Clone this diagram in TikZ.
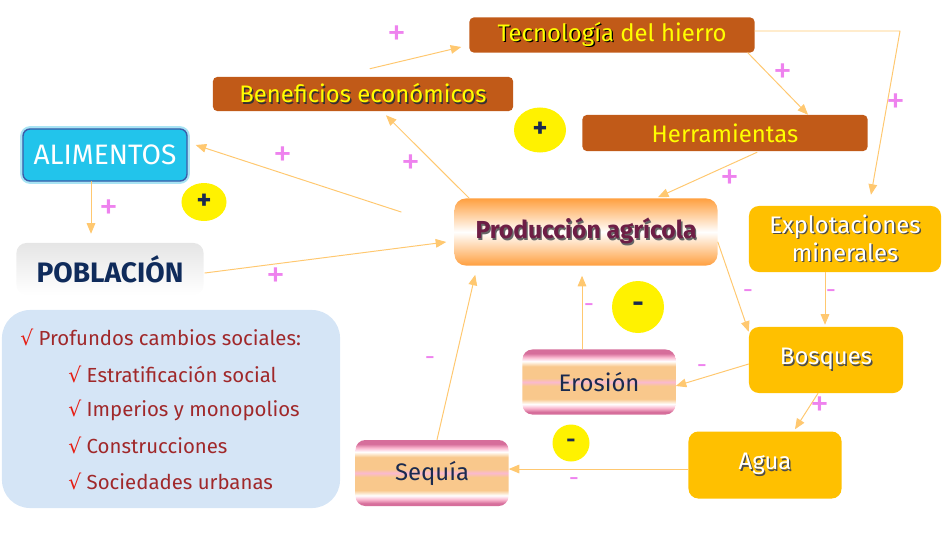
\documentclass[tikz,border=0pt]{standalone}
\usepackage{fontspec}
\setmainfont{Fira Sans}
\newfontfamily\symfont{DejaVu Sans}
\usepackage{tikz}
\usetikzlibrary{arrows}
\usetikzlibrary{shapes.geometric}

\definecolor{ironfill}{RGB}{193,90,24}
\definecolor{ironfont}{RGB}{255,255,0}
\definecolor{goldfill}{RGB}{255,192,0}
\definecolor{prodorange}{RGB}{255,160,64}
\definecolor{prodfont}{RGB}{110,30,70}
\definecolor{alifill}{RGB}{34,196,235}
\definecolor{aliedge}{RGB}{60,92,168}
\definecolor{aliring}{RGB}{168,228,244}
\definecolor{pobfont}{RGB}{15,43,91}
\definecolor{navyfont}{RGB}{26,42,79}
\definecolor{socfill}{RGB}{213,229,246}
\definecolor{socfont}{RGB}{160,40,42}
\definecolor{checkred}{RGB}{230,30,20}
\definecolor{linkc}{RGB}{255,200,112}
\definecolor{signc}{RGB}{238,130,238}
\definecolor{stripeA}{RGB}{214,110,155}
\definecolor{stripeB}{RGB}{249,200,140}
\definecolor{stripeC}{RGB}{250,185,208}

\pgfdeclareverticalshading{stripes}{100bp}{color(0bp)=(stripeA); color(27bp)=(stripeA); color(30bp)=(stripeC); color(33bp)=(white); color(37bp)=(stripeB); color(47bp)=(stripeB); color(50bp)=(stripeC); color(53bp)=(stripeB); color(62bp)=(stripeB); color(66bp)=(white); color(69bp)=(stripeC); color(72bp)=(stripeA); color(100bp)=(stripeA)}

\newcommand\shtext[2]{\makebox[0pt][l]{\hspace{1pt}\raisebox{-1pt}{\color{#1}#2}}#2}
\newcommand\chkmark{{\symfont\color{checkred}√}}

\begin{document}
\begin{tikzpicture}[line cap=round,line join=round,>=triangle 45,x=0.025cm,y=-0.025cm,
    ironbox/.style={rectangle, rounded corners=3pt, fill=ironfill, text=ironfont, minimum width=7.125cm, minimum height=0.875cm, font=\fontsize{17}{20}\selectfont},
    goldbox/.style={rectangle, rounded corners=7pt, fill=goldfill, text=white, minimum width=3.85cm, minimum height=1.65cm, align=center, font=\fontsize{17}{20}\selectfont},
    stripebox/.style={rectangle, rounded corners=7pt, shading=stripes, text=navyfont, minimum width=3.825cm, minimum height=1.625cm, font=\fontsize{17}{20}\selectfont},
    signdot/.style={ellipse, fill=yellow, text=navyfont, inner sep=0pt, font=\bfseries\fontsize{20}{20}\selectfont},
    item/.style={anchor=west, text=socfont, inner sep=0pt, font=\fontsize{14.5}{18}\selectfont},
    link/.style={->, draw=linkc, line width=0.7pt},
    lbl/.style={text=signc, inner sep=0pt, font=\fontsize{18}{18}\selectfont},
    plus/.style={text=signc, inner sep=0pt, font=\fontsize{27}{27}\selectfont}]
    \useasboundingbox (0,0) rectangle (944,540);

    \node[ironbox] (tec) at (612,35) {\shtext{black}{Tecnología} del hierro};
    \node[ironbox, minimum width=7.5cm, minimum height=0.85cm] (ben) at (363,94) {\shtext{black!80}{Beneficios económicos}};
    \node[ironbox, minimum height=0.9cm] (her) at (725,133) {Herramientas};

    \node[rectangle, rounded corners=5pt, fill=alifill, draw=aliedge, line width=1pt, preaction={draw=aliring, line width=4pt}, text=white, minimum width=4.1cm, minimum height=1.3cm, font=\fontsize{20}{22}\selectfont] (ali) at (105,155) {ALIMENTOS};
    \node[rectangle, rounded corners=7pt, top color=black!10, bottom color=white, text=pobfont, minimum width=4.675cm, minimum height=1.3cm, font=\bfseries\fontsize{20}{22}\selectfont] (pob) at (110,269) {POBLACIÓN};

    \node[rectangle, rounded corners=8pt, top color=prodorange, bottom color=prodorange, middle color=white, text=prodfont, minimum width=6.575cm, minimum height=1.675cm, font=\bfseries\fontsize{17.5}{20}\selectfont] (prod) at (586,232) {\shtext{black!60}{Producción agrícola}};

    \node[goldbox, minimum width=4.8cm] (exp) at (845,239) {\shtext{black!70}{Explotaciones}\\\shtext{black!70}{minerales}};
    \node[goldbox] (bos) at (826,360) {\shtext{black!70}{Bosques}};
    \node[goldbox, minimum width=3.825cm, minimum height=1.675cm] (agua) at (765,465) {\shtext{black!70}{Agua}};

    \node[stripebox] (ero) at (599,382) {Erosión};
    \node[stripebox, minimum height=1.65cm] (seq) at (432,473) {Sequía};

    \node[rectangle, rounded corners=20pt, fill=socfill, minimum width=8.45cm, minimum height=4.95cm] (soc) at (171,409) {};
    \node[item] (soc0) at (20,337) {\chkmark\ Profundos cambios sociales:};
    \node[item] (soc1) at (68,374) {\chkmark\ Estratificación social};
    \node[item] (soc2) at (68,410) {\chkmark\ Imperios y monopolios};
    \node[item] (soc3) at (68,445) {\chkmark\ Construcciones};
    \node[item] (soc4) at (68,481) {\chkmark\ Sociedades urbanas};

    \node[signdot, minimum width=1.3cm, minimum height=1.125cm] (dotA) at (540,130) {+};
    \node[signdot, minimum width=1.125cm, minimum height=0.95cm] (dotB) at (204,202) {+};
    \node[signdot, minimum size=1.3cm] (dotC) at (638,307) {-};
    \node[signdot, minimum size=0.925cm, font=\bfseries\fontsize{16}{16}\selectfont] (dotD) at (571,443) {-};

    \coordinate (bend) at (900,31);

    \draw[link] ([shift={(7,-8)}]ben.north) -- ([shift={(-8,12)}]tec.west);
    \draw[link] ([shift={(-7,0)}]tec.south east) -- ([shift={(83,0)}]her.north);
    \draw[link] ([shift={(0,-4)}]tec.east) -- (bend) -- ([shift={(26,-11)}]exp.north);
    \draw[link] ([shift={(32,1)}]her.south) -- ([shift={(72,-1)}]prod.north);
    \draw[link] ([shift={(15,0)}]prod.north west) -- ([shift={(23,4)}]ben.south);
    \draw[link] ([shift={(-53,-20)}]prod.west) -- ([shift={(8,-10)}]ali.east);
    \draw[link] ([shift={(-14,0)}]ali.south) -- ([shift={(-19,-9)}]pob.north);
    \draw[link] ([shift={(1,4)}]pob.east) -- ([shift={(-8,10)}]prod.west);
    \draw[link] ([shift={(0,10)}]prod.east) -- ([shift={(0,5)}]bos.north west);
    \draw[link] ([shift={(-20,0)}]exp.south) -- ([shift={(-1,-2)}]bos.north);
    \draw[link] ([shift={(0,4)}]bos.west) -- ([shift={(0,4)}]ero.east);
    \draw[link] ([shift={(-17,0)}]ero.north) -- ([shift={(-4,10)}]prod.south);
    \draw[link] ([shift={(-8,0)}]bos.south) -- ([shift={(30,-2)}]agua.north);
    \draw[link] ([shift={(0,4)}]agua.west) -- ([shift={(0,-4)}]seq.east);
    \draw[link] ([shift={(5,0)}]seq.north) -- ([shift={(21,9)}]prod.south west);

    \node[plus] (l1) at (397,36) {+};
    \node[plus] (l2) at (783,74) {+};
    \node[plus] (l3) at (896,104) {+};
    \node[plus] (l4) at (730,180) {+};
    \node[plus] (l5) at (411,165) {+};
    \node[plus] (l6) at (283,157) {+};
    \node[plus] (l7) at (109,210) {+};
    \node[plus] (l8) at (276,278) {+};
    \node[lbl] (l9) at (748,294) {-};
    \node[lbl] (l10) at (831,294) {-};
    \node[lbl] (l11) at (702,369) {-};
    \node[lbl] (l12) at (589,308) {-};
    \node[plus] (l13) at (820,407) {+};
    \node[lbl] (l14) at (574,482) {-};
    \node[lbl] (l15) at (430,361) {-};
\end{tikzpicture}
\end{document}
